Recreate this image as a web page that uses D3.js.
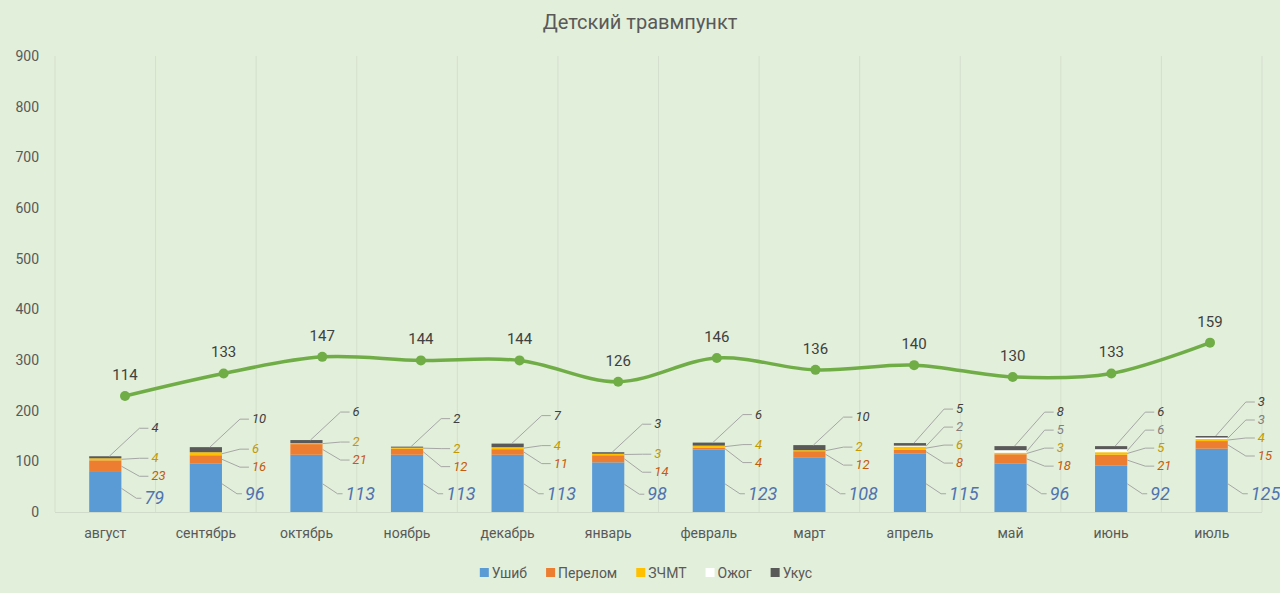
<!DOCTYPE html>
<html>
<head>
<meta charset="utf-8">
<script src="https://cdn.jsdelivr.net/npm/d3@7"></script>
<style>
  body { margin: 0; background: #e2efda; }
  svg { display: block; font-family: Roboto, "Noto Sans", sans-serif; }
</style>
</head>
<body>
<div id="chart"></div>
<script>
// data
const months = ["август", "сентябрь", "октябрь", "ноябрь", "декабрь", "январь",
  "февраль", "март", "апрель", "май", "июнь", "июль"];
const ushib = [79, 96, 113, 113, 113, 98, 123, 108, 115, 96, 92, 125];
const perelom = [23, 16, 21, 12, 11, 14, 4, 12, 8, 18, 21, 15];
const zchmt = [4, 6, 2, 2, 4, 3, 4, 2, 6, 3, 5, 4];
const ozhog = [0, 0, 0, 0, 0, 0, 0, 0, 2, 5, 6, 3];
const ukus = [4, 10, 6, 2, 7, 3, 6, 10, 5, 8, 6, 3];
const totals = [114, 133, 147, 144, 144, 126, 146, 136, 140, 130, 133, 159];
const yTicks = [0, 100, 200, 300, 400, 500, 600, 700, 800, 900];

const seriesNames = ["Ушиб", "Перелом", "ЗЧМТ", "Ожог", "Укус"];
const seriesData = [ushib, perelom, zchmt, ozhog, ukus];
const colors = ["#5b9bd5", "#ed7d31", "#ffc000", "#ffffff", "#595959"];
const labelColors = ["#4f73b0", "#c55a11", "#c29a00", "#7f7f7f", "#404040"];

const W = 1280, H = 593;
const plot = { left: 55, right: 1262, top: 56, bottom: 512 };

const rows = months.map((m, i) => {
  const r = { month: m };
  seriesNames.forEach((s, j) => (r[s] = seriesData[j][i]));
  return r;
});

const svg = d3.select("#chart").append("svg")
  .attr("width", W).attr("height", H);

svg.append("rect").attr("width", W).attr("height", H).attr("fill", "#e2efda");

const x = d3.scaleBand().domain(months)
  .range([plot.left, plot.right]).paddingInner(0.68).paddingOuter(0.34);
const y = d3.scaleLinear().domain([0, 900]).range([plot.bottom, plot.top]);
// the line sits on its own (hidden) secondary axes
const xLine = d3.scalePoint().domain(months).range([125, 1210]);
const yLine = d3.scaleLinear().domain([16, 401]).range([plot.bottom, plot.top]);

// title
svg.append("text").attr("x", 640).attr("y", 29)
  .attr("text-anchor", "middle").style("font-size", "20px").style("fill", "#595959")
  .text("Детский травмпункт");

// vertical gridlines between categories
const gridX = d3.range(months.length + 1).map(i => plot.left + i * x.step());
svg.append("g").selectAll("line").data(gridX).join("line")
  .attr("x1", d => d).attr("x2", d => d)
  .attr("y1", plot.top).attr("y2", plot.bottom)
  .attr("stroke", "#d4dfcd").attr("stroke-width", 1);

// y axis labels
svg.append("g").selectAll("text").data(yTicks).join("text")
  .attr("x", 39).attr("y", d => y(d) + 5)
  .attr("text-anchor", "end").style("font-size", "14px").style("fill", "#595959")
  .text(d => d);

// x axis line + labels
svg.append("line").attr("x1", plot.left).attr("x2", plot.right)
  .attr("y1", plot.bottom + 0.5).attr("y2", plot.bottom + 0.5)
  .attr("stroke", "#d0dbc9");
svg.append("g").selectAll("text").data(months).join("text")
  .attr("x", d => x(d) + x.bandwidth() / 2).attr("y", 538)
  .attr("text-anchor", "middle").style("font-size", "14px").style("fill", "#595959")
  .text(d => d);

// stacked bars
const stacked = d3.stack().keys(seriesNames)(rows);
svg.append("g").selectAll("g").data(stacked).join("g")
  .attr("fill", (d, i) => colors[i])
  .selectAll("rect").data(d => d).join("rect")
  .attr("x", d => x(d.data.month))
  .attr("width", x.bandwidth())
  .attr("y", d => y(d[1]))
  .attr("height", d => y(d[0]) - y(d[1]));

// callout labels with leader lines
const leaders = svg.append("g").attr("fill", "none").attr("stroke", "#a6a6a6").attr("stroke-width", 1);
const labels = svg.append("g").style("font-style", "italic");
months.forEach((m, i) => {
  const bx = x(m), br = bx + x.bandwidth();
  const topY = y(stacked[4][i][1]);
  // other series stacked upward
  let ly = topY + 20;
  const firstY = ly;
  let first = true;
  for (let s = 1; s < seriesNames.length; s++) {
    const v = seriesData[s][i];
    if (!v) continue;
    if (!first) ly -= 18;
    if (s === 4) ly = Math.min(ly, topY - 28);
    first = false;
    const seg = stacked[s][i];
    const start = s === 4 ? [bx + x.bandwidth() / 2 + 4, topY] : [br, y((seg[0] + seg[1]) / 2)];
    leaders.append("path").attr("d", d3.line()([start, [br + 18, ly], [br + 27, ly]]));
    labels.append("text").attr("x", br + 30).attr("y", ly + 4)
      .style("font-size", "13px").style("fill", labelColors[s]).text(v);
  }
  // first series: big label low to the right
  const uy = Math.max(y(36), firstY + 22);
  leaders.append("path").attr("d", d3.line()([
    [br, uy - 10], [br + 15, uy], [br + 20, uy]]));
  labels.append("text").attr("x", br + 23).attr("y", uy + 6)
    .style("font-size", "18px").style("fill", labelColors[0]).text(ushib[i]);
});

// total line
const linePts = months.map((m, i) => [xLine(m), yLine(totals[i])]);
svg.append("path")
  .attr("d", d3.line().curve(d3.curveCatmullRom.alpha(0.5))(linePts))
  .attr("fill", "none").attr("stroke", "#70ad47").attr("stroke-width", 3.5);
svg.append("g").selectAll("circle").data(linePts).join("circle")
  .attr("cx", d => d[0]).attr("cy", d => d[1]).attr("r", 5).attr("fill", "#70ad47");
svg.append("g").selectAll("text").data(totals).join("text")
  .attr("x", (d, i) => xLine(months[i])).attr("y", d => yLine(d) - 16)
  .attr("text-anchor", "middle").style("font-size", "15px").style("fill", "#404040")
  .text(d => d);

// legend
const legend = svg.append("g");
let lx = 0;
seriesNames.forEach((s, i) => {
  const g = legend.append("g").attr("transform", `translate(${lx},0)`);
  g.append("rect").attr("x", 0).attr("y", -5).attr("width", 9).attr("height", 9).attr("fill", colors[i]);
  const t = g.append("text").attr("x", 12).attr("y", 5)
    .style("font-size", "14px").style("fill", "#595959").text(s);
  lx += 12 + t.node().getComputedTextLength() + 19;
});
legend.attr("transform", `translate(${646 - (lx - 19) / 2},573)`);
</script>
</body>
</html>
